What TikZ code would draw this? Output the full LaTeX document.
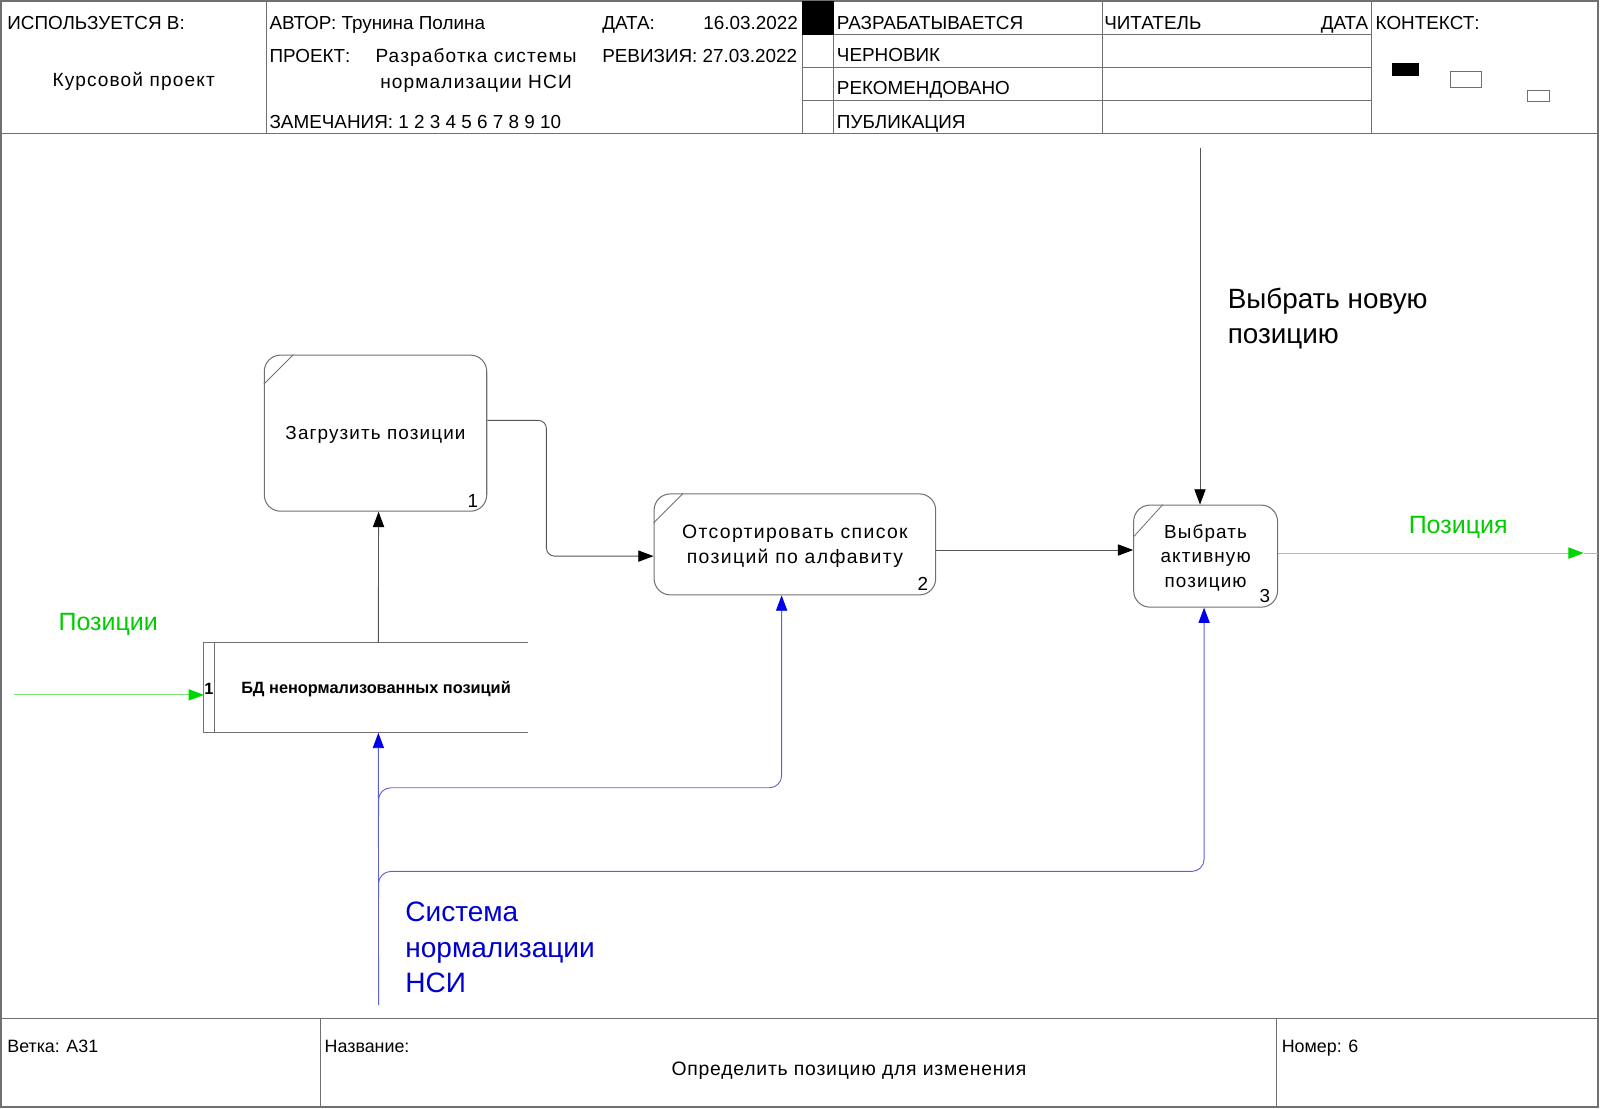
\documentclass[tikz,border=0pt]{standalone}
\usepackage{fontspec}
\setmainfont{Liberation Sans}
\usetikzlibrary{arrows.meta,calc}
\definecolor{framegray}{RGB}{112,112,112}
\definecolor{linegray}{RGB}{85,85,85}
\definecolor{blueline}{RGB}{95,95,215}
\definecolor{bluearrow}{RGB}{0,0,235}
\definecolor{bluetext}{RGB}{0,0,205}
\definecolor{greenline}{RGB}{120,225,120}
\definecolor{greenarrow}{RGB}{0,215,0}
\definecolor{greentext}{RGB}{0,205,0}
\begin{document}
\begin{tikzpicture}[x=1pt,y=-1pt,
  frameline/.style={draw=framegray,line width=1.3pt},
  cellline/.style={draw=framegray,line width=0.9pt},
  hdr/.style={font=\fontsize{18.5}{22}\selectfont,inner sep=0pt,anchor=base west},
  hdrsp/.style={font=\fontsize{18.7}{25}\selectfont\addfontfeatures{LetterSpace=6},inner sep=0pt,align=center,text depth=0pt},
  ftr/.style={font=\fontsize{17.5}{21}\selectfont,inner sep=0pt,anchor=base west},
  proc/.style={draw=framegray,line width=1pt,rounded corners=16pt,inner sep=0pt,align=center,
    text depth=-6pt,
    font=\fontsize{18.5}{24.5}\selectfont\addfontfeatures{LetterSpace=6}},
  numlbl/.style={font=\fontsize{18.5}{20}\selectfont,inner sep=0pt},
  conn/.style={draw=linegray,line width=0.9pt,-{Triangle[length=15pt,width=11pt,color=black]}},
  bline/.style={draw=blueline,line width=0.9pt,rounded corners=12pt},
  bconn/.style={bline,-{Triangle[length=15pt,width=11pt,color=bluearrow]}},
  gline/.style={draw=greenline,line width=0.9pt},
  gconn/.style={gline,-{Triangle[length=15pt,width=11pt,color=greenarrow]}},
  biglbl/.style={inner sep=0pt,align=left,anchor=west}
]
\useasboundingbox (0,0) rectangle (1568,1086);
% ---------- frame ----------
\draw[frameline] (1,1) rectangle (1566,1085);
\draw[frameline] (1,131) -- (1566,131);
\draw[frameline] (1,998) -- (1566,998);
% header verticals
\foreach \xx in {261,786,817,1080,1344} \draw[cellline] (\xx,1) -- (\xx,131);
\foreach \yy in {34,66,98} \draw[cellline] (786,\yy) -- (1344,\yy);
\fill[black] (786,1) rectangle (817,34);
% footer verticals
\draw[cellline] (314,998) -- (314,1085);
\draw[cellline] (1251,998) -- (1251,1085);
% ---------- header texts ----------
\node[hdr] (h1) at (7,28.7) {ИСПОЛЬЗУЕТСЯ В:};
\node[hdrsp,text height=13.4pt] (h2) at (131,78) {Курсовой проект};
\node[hdr] (h3) at (264,28.7) {АВТОР: Трунина Полина};
\node[hdr] (h4) at (590,28.7) {ДАТА:};
\node[hdr,anchor=base east] (h5) at (782,28.7) {16.03.2022};
\node[hdrsp,text height=38.4pt] (h7) at (466.5,67.5) {Разработка системы\\нормализации НСИ};
\node[hdr] (h6) at (264,61.7) {ПРОЕКТ:};
\node[hdr] (h8) at (590,61.7) {РЕВИЗИЯ: 27.03.2022};
\node[hdr] (h9) at (264,125.7) {ЗАМЕЧАНИЯ: 1 2 3 4 5 6 7 8 9 10};
\node[hdr] (h10) at (820,28.7) {РАЗРАБАТЫВАЕТСЯ};
\node[hdr] (h11) at (820,60.7) {ЧЕРНОВИК};
\node[hdr] (h12) at (820,92.7) {РЕКОМЕНДОВАНО};
\node[hdr] (h13) at (820,125.7) {ПУБЛИКАЦИЯ};
\node[hdr] (h14) at (1082,28.7) {ЧИТАТЕЛЬ};
\node[hdr,anchor=base east] (h15) at (1341,28.7) {ДАТА};
\node[hdr] (h16) at (1348,28.7) {КОНТЕКСТ:};
% context marks
\fill[black] (1364,62) rectangle (1391,74);
\draw[draw=framegray,line width=0.8pt] (1421,70) rectangle (1452,86);
\draw[draw=framegray,line width=0.8pt] (1497,89) rectangle (1518,99);
% ---------- footer texts ----------
\node[ftr] (f1) at (7,1031.3) {Ветка: А31};
\node[ftr] (f2) at (318,1031.3) {Название:};
\node[ftr] (f3) at (1256,1031.3) {Номер: 6};
\node[inner sep=0pt,anchor=base,font=\fontsize{19}{22}\selectfont\addfontfeatures{LetterSpace=4}] (f4) at (832,1054) {Определить позицию для изменения};
% ---------- process boxes ----------
\node[proc,text height=13.3pt,minimum width=218pt,minimum height=153pt] (b1) at (368,424.5) {Загрузить позиции};
\node[proc,text height=37.8pt,font=\fontsize{19}{24.5}\selectfont\addfontfeatures{LetterSpace=7},minimum width=276pt,minimum height=99pt] (b2) at (779,533.5) {Отсортировать список\\позиций по алфавиту};
\node[proc,text height=61.3pt,font=\fontsize{18.5}{24}\selectfont\addfontfeatures{LetterSpace=6},minimum width=141pt,minimum height=100pt] (b3) at (1181.5,545) {Выбрать\\активную\\позицию};
\draw[draw=framegray,line width=0.8pt] ($(b1.north west)+(0,29)$) -- ($(b1.north west)+(29,0)$);
\draw[draw=framegray,line width=0.8pt] ($(b2.north west)+(0,29)$) -- ($(b2.north west)+(29,0)$);
\draw[draw=framegray,line width=0.8pt] ($(b3.north west)+(0,32)$) -- ($(b3.north west)+(29,0)$);
\node[numlbl] (n1) at ($(b1.south east)+(-14,-11)$) {1};
\node[numlbl] (n2) at ($(b2.south east)+(-13,-11)$) {2};
\node[numlbl] (n3) at ($(b3.south east)+(-13,-11)$) {3};
% ---------- data store ----------
\node[minimum width=317pt,minimum height=88pt,inner sep=0pt] (st) at (358.5,674) {};
\draw[draw=framegray,line width=0.9pt] (st.north east) -- (st.north west) -- (st.south west) -- (st.south east);
\draw[draw=framegray,line width=0.9pt] ($(st.north west)+(10,0)$) -- ($(st.south west)+(10,0)$);
\node[inner sep=0pt,font=\fontsize{16}{18}\selectfont\bfseries] (stt) at (368.5,675) {БД ненормализованных позиций};
\node[inner sep=0pt,font=\fontsize{16}{18}\selectfont\bfseries] (stn) at ($(st.west)+(5,1)$) {1};
% ---------- connectors ----------
\draw[conn] ($(st.north west)+(171,0)$) -- ($(b1.south)+(3,0)$);
\draw[conn,rounded corners=8pt] ($(b1.east)+(0,-12.5)$) -| ($(b2.west)+(-105,11.5)$) -- ($(b2.west)+(0,11.5)$);
\draw[conn] ($(b2.east)+(0,5.5)$) -- ($(b3.west)+(0,-6)$);
\coordinate (topin) at (1176,145);
\draw[conn] (topin) -- ($(b3.north)+(-5.5,0)$);
% green
\coordinate (inp) at (14,681);
\draw[gconn] (inp) -- (st.west |- inp);
\coordinate (outtip) at (1552,542);
\draw[gconn] ($(b3.east)+(0,-3)$) -- (outtip);
\coordinate (outend) at (1566,542);
\draw[gline] (outtip) -- (outend);
% blue
\coordinate (ctl) at (371,985);
\draw[bconn] (ctl) -- ($(st.south west)+(171,0)$);
\coordinate (j1) at (371,800);
\coordinate (j2) at (371,880);
\draw[bconn] (j1) -- (371,772) -- (766,772) -- ($(b2.south)+(-13,0)$);
\draw[bconn] (j2) -- (371,854) -- (1180,854) -- ($(b3.south)+(-1.5,0)$);
% ---------- labels ----------
\node[biglbl,font=\fontsize{27.3}{34}\selectfont] (l1) at (1203,312) {Выбрать новую\\позицию};
\node[biglbl,font=\fontsize{27.5}{35}\selectfont,text=bluetext] (l2) at (397,928.5) {Система\\нормализации\\НСИ};
\node[inner sep=0pt,font=\fontsize{24.5}{28}\selectfont,text=greentext] (l3) at (106,612) {Позиции};
\node[inner sep=0pt,font=\fontsize{24.5}{28}\selectfont,text=greentext] (l4) at (1429,517) {Позиция};
\end{tikzpicture}
\end{document}
